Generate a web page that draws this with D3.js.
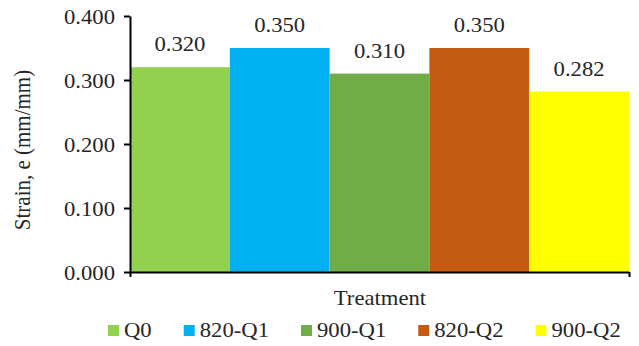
<!DOCTYPE html>
<html>
<head>
<meta charset="utf-8">
<script src="https://cdn.jsdelivr.net/npm/d3@7"></script>
<style>
  html, body { margin: 0; padding: 0; background: #fff; }
  svg { display: block; }
  text { font-family: "Liberation Serif", "Times New Roman", serif; fill: #262626; }
</style>
</head>
<body>
<svg id="chart" width="639" height="346"></svg>
<script>
const categories = ["Q0", "820-Q1", "900-Q1", "820-Q2", "900-Q2"];
const values = [0.320, 0.350, 0.310, 0.350, 0.282];
const colors = ["#92D050", "#00B0F0", "#70AD47", "#C55A11", "#FFFF00"];
const yTicks = [0, 0.1, 0.2, 0.3, 0.4];
const yTitle = "Strain, e (mm/mm)";
const xTitle = "Treatment";

const svg = d3.select("#chart");
const mLeft = 130, mRight = 629, mTop = 16, mBottom = 272;
const fs = 21, sx = 1.08;

const x = d3.scaleBand().domain(categories).range([mLeft, mRight]).padding(0);
const y = d3.scaleLinear().domain([0, 0.4]).range([mBottom, mTop]);

// bars
svg.append("g").selectAll("rect")
  .data(categories)
  .join("rect")
  .attr("x", d => x(d))
  .attr("width", x.bandwidth())
  .attr("y", (d, i) => y(values[i]))
  .attr("height", (d, i) => y(0) - y(values[i]))
  .attr("fill", (d, i) => colors[i]);

// value labels
svg.append("g").selectAll("text")
  .data(categories)
  .join("text")
  .attr("transform", (d, i) => `translate(${x(d) + x.bandwidth() / 2},${y(values[i]) - 16}) scale(${sx},1)`)
  .attr("text-anchor", "middle")
  .style("font-size", fs + "px")
  .text((d, i) => d3.format(".3f")(values[i]));

// y axis
const yAxis = d3.axisLeft(y).tickValues(yTicks).tickFormat(d3.format(".3f")).tickSize(6).tickSizeOuter(0).tickPadding(9);
const gy = svg.append("g").attr("transform", `translate(${mLeft},0)`).call(yAxis);
gy.attr("font-family", null).attr("font-size", null);
gy.select(".domain").attr("stroke", "#000").attr("stroke-width", 2);
gy.selectAll(".tick line").attr("stroke", "#000").attr("stroke-width", 2);
gy.selectAll(".tick text")
  .style("font-size", fs + "px")
  .style("fill", "#262626")
  .attr("dy", "0.35em")
  .each(function() {
    const t = d3.select(this);
    const xx = +t.attr("x");
    t.attr("x", null).attr("transform", `translate(${xx},0) scale(${sx},1)`);
  });

// x axis
const xAxis = d3.axisBottom(d3.scaleLinear().domain([0, 1]).range([mLeft, mRight])).tickValues([0, 1]).tickFormat("").tickSize(5).tickSizeOuter(0);
const gx = svg.append("g").attr("transform", `translate(0,${mBottom})`).call(xAxis);
gx.select(".domain").attr("stroke", "#000").attr("stroke-width", 2);
gx.selectAll(".tick line").attr("stroke", "#000").attr("stroke-width", 2);

// axis titles
svg.append("text")
  .attr("transform", `translate(380,305) scale(${sx},1)`)
  .attr("text-anchor", "middle")
  .style("font-size", fs + "px")
  .text(xTitle);

svg.append("text")
  .attr("transform", `translate(30,150) rotate(-90) scale(1,${sx})`)
  .attr("text-anchor", "middle")
  .style("font-size", fs + "px")
  .text(yTitle);

// legend
const lg = svg.append("g");
let lx = 108;
categories.forEach((c, i) => {
  lg.append("rect").attr("x", lx).attr("y", 325).attr("width", 11).attr("height", 11).attr("fill", colors[i]);
  const t = lg.append("text")
    .attr("transform", `translate(${lx + 16},337) scale(${sx},1)`)
    .style("font-size", fs + "px")
    .text(c);
  const w = t.node().getComputedTextLength() * sx;
  lx += 16 + w + 32;
});
</script>
</body>
</html>
